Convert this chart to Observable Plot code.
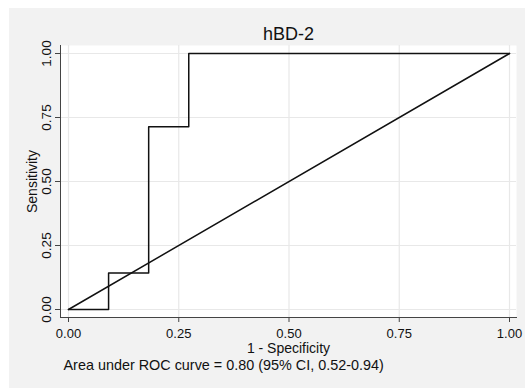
<!DOCTYPE html>
<html>
<head>
<meta charset="utf-8">
<script src="https://cdn.jsdelivr.net/npm/d3@7"></script>
<script src="https://cdn.jsdelivr.net/npm/@observablehq/plot@0.6"></script>
<style>
  html, body { margin: 0; padding: 0; background: #ffffff; }
  #wrap { position: relative; width: 525px; height: 388px; overflow: hidden; }
  #bg { position: absolute; left: 9px; top: 8px; width: 516px; height: 380px; background: #f2f2f2; }
  #chart { position: absolute; left: 0; top: 0; }
  #chart svg { background: transparent; display: block; }
</style>
</head>
<body>
<div id="wrap"><div id="bg"></div><div id="chart"></div></div>
<script>
// ROC curve points (1 - specificity, sensitivity)
const fpr = [0, 0.0909, 0.0909, 0.1818, 0.1818, 0.2727, 0.2727, 1];
const tpr = [0, 0, 0.1429, 0.1429, 0.7143, 0.7143, 1, 1];
// reference (chance) line
const refX = [0, 1];
const refY = [0, 1];
const xTicks = [0, 0.25, 0.5, 0.75, 1];
const yTicks = [0, 0.25, 0.5, 0.75, 1];
const titleText = "hBD-2";
const xLabel = "1 - Specificity";
const yLabel = "Sensitivity";
const captionText = "Area under ROC curve = 0.80 (95% CI, 0.52-0.94)";

const roc = fpr.map((x, i) => ({x, y: tpr[i]}));
const ref = refX.map((x, i) => ({x, y: refY[i]}));

const ink = "#111111";
const grid = "#e8e8e8";
const fmt = d3.format(".2f");

const chart = Plot.plot({
  width: 525,
  height: 388,
  marginLeft: 60,
  marginRight: 9,
  marginTop: 45,
  marginBottom: 71,
  style: {fontFamily: "'Liberation Sans', Arial, sans-serif", fontSize: "13px", color: ink, background: "transparent"},
  x: {domain: [0, 1], insetLeft: 8, insetRight: 7, axis: null},
  y: {domain: [0, 1], insetTop: 8, insetBottom: 8, axis: null},
  marks: [
    Plot.frame({fill: "white", stroke: null}),
    Plot.gridX(xTicks, {stroke: grid, strokeOpacity: 1, strokeWidth: 1.2}),
    Plot.gridY(yTicks, {stroke: grid, strokeOpacity: 1, strokeWidth: 1.2}),
    Plot.line(ref, {x: "x", y: "y", stroke: ink, strokeWidth: 1.5}),
    Plot.line(roc, {x: "x", y: "y", stroke: ink, strokeWidth: 1.5}),
    Plot.frame({anchor: "left", stroke: "#444"}),
    Plot.frame({anchor: "bottom", stroke: "#444"}),
    Plot.axisX(xTicks, {tickSize: 5, tickPadding: 6, tickFormat: fmt, label: null, stroke: "#444", fill: ink, fontSize: 13}),
    Plot.axisY(yTicks, {tickSize: 5, tickPadding: 5, tickRotate: -90, textAnchor: "middle", lineAnchor: "bottom", tickFormat: fmt, label: null, stroke: "#444", fill: ink, fontSize: 13.5}),
    Plot.text([yLabel], {frameAnchor: "left", dx: -24, rotate: -90, textAnchor: "middle", lineAnchor: "bottom", fill: ink, fontSize: 14}),
    Plot.text([xLabel], {frameAnchor: "bottom", dy: 35.5, textAnchor: "middle", lineAnchor: "bottom", fill: ink, fontSize: 14}),
    Plot.text([captionText], {frameAnchor: "bottom-left", dx: 3, dy: 52.5, textAnchor: "start", lineAnchor: "bottom", fill: ink, fontSize: 14.4}),
    Plot.text([titleText], {frameAnchor: "top", dy: -6, textAnchor: "middle", lineAnchor: "bottom", fill: ink, fontSize: 18})
  ]
});
document.getElementById("chart").appendChild(chart);
</script>
</body>
</html>
